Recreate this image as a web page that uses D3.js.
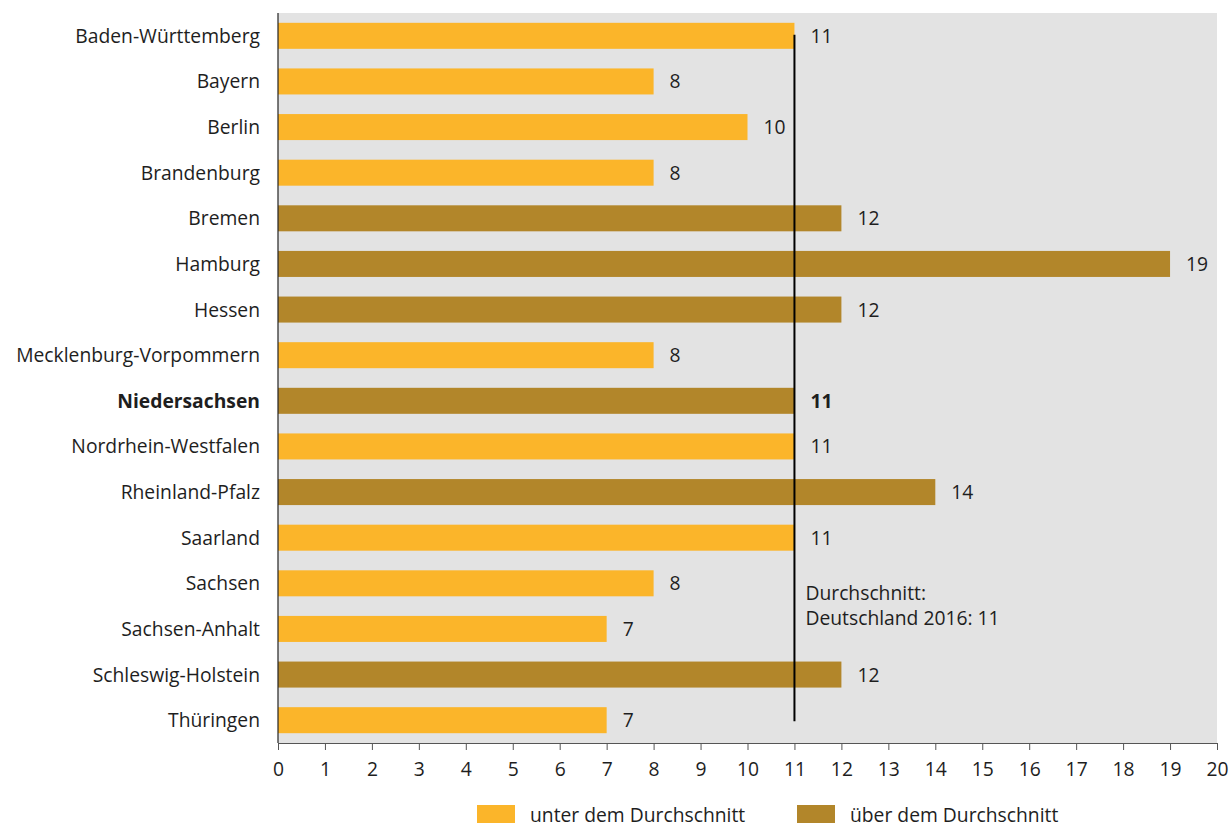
<!DOCTYPE html>
<html lang="de">
<head>
<meta charset="utf-8">
<script src="https://cdn.jsdelivr.net/npm/d3@7"></script>
<style>
  html, body { margin: 0; padding: 0; background: #fff; }
  svg { display: block; font-family: "Open Sans", "Noto Sans", sans-serif; }
</style>
</head>
<body>
<svg id="chart" width="1231" height="827"></svg>
<script>
// Bundesländer and their values
const states = [
  "Baden-Württemberg", "Bayern", "Berlin", "Brandenburg", "Bremen", "Hamburg",
  "Hessen", "Mecklenburg-Vorpommern", "Niedersachsen", "Nordrhein-Westfalen",
  "Rheinland-Pfalz", "Saarland", "Sachsen", "Sachsen-Anhalt",
  "Schleswig-Holstein", "Thüringen"
];
const values = [11, 8, 10, 8, 12, 19, 12, 8, 11, 11, 14, 11, 8, 7, 12, 7];
// "above" = über dem Durchschnitt, "below" = unter dem Durchschnitt
const groups = ["below", "below", "below", "below", "above", "above", "above", "below",
                "above", "below", "above", "below", "below", "below", "above", "below"];
const highlighted = "Niedersachsen";
const average = 11;
const averageLabel = ["Durchschnitt:", "Deutschland 2016: 11"];
const xTicks = d3.range(0, 21);
const legendItems = [
  { key: "below", label: "unter dem Durchschnitt" },
  { key: "above", label: "über dem Durchschnitt" }
];

const colors = { below: "#FBB52A", above: "#B2862A" };
const textColor = "#1e1e1e";
const fontSize = 19.3;

const svg = d3.select("#chart");
const margin = { left: 278, right: 14, top: 13, bottom: 84 };
const width = 1231, height = 827;

const x = d3.scaleLinear().domain([0, 20]).range([margin.left, width - margin.right]);
const y = d3.scaleBand().domain(states).range([margin.top, height - margin.bottom])
  .paddingInner(0.43).paddingOuter(0.215);

// plot background
svg.append("rect")
  .attr("x", x(0)).attr("y", margin.top)
  .attr("width", x(20) - x(0)).attr("height", (height - margin.bottom) - margin.top)
  .attr("fill", "#E3E3E3");

const data = states.map((s, i) => ({ state: s, value: values[i], group: groups[i] }));

// bars
svg.append("g").selectAll("rect").data(data).join("rect")
  .attr("x", x(0))
  .attr("y", d => y(d.state))
  .attr("width", d => x(d.value) - x(0))
  .attr("height", y.bandwidth())
  .attr("fill", d => colors[d.group]);

// value labels
svg.append("g").selectAll("text").data(data).join("text")
  .attr("x", d => x(d.value) + 16)
  .attr("y", d => y(d.state) + y.bandwidth() / 2)
  .attr("dy", "0.36em")
  .style("font-size", fontSize + "px")
  .attr("font-weight", d => d.state === highlighted ? 700 : 400)
  .attr("fill", textColor)
  .text(d => d.value);

// category labels
svg.append("g").selectAll("text").data(states).join("text")
  .attr("x", 260)
  .attr("y", d => y(d) + y.bandwidth() / 2)
  .attr("dy", "0.36em")
  .attr("text-anchor", "end")
  .style("font-size", fontSize + "px")
  .attr("font-weight", d => d === highlighted ? 700 : 400)
  .attr("fill", textColor)
  .text(d => d);

// average reference line
svg.append("line")
  .attr("x1", x(average)).attr("x2", x(average))
  .attr("y1", y(states[0]) + y.bandwidth() / 2 - 1)
  .attr("y2", y(states[states.length - 1]) + y.bandwidth() / 2 + 1)
  .attr("stroke", "#000").attr("stroke-width", 2);

const ann = svg.append("text")
  .attr("x", x(average) + 11)
  .style("font-size", fontSize + "px")
  .attr("fill", textColor);
averageLabel.forEach((t, i) => {
  ann.append("tspan").attr("x", x(average) + 11).attr("y", 600 + i * 25).text(t);
});

// x axis
const xAxis = svg.append("g")
  .attr("transform", `translate(0,${height - margin.bottom})`)
  .call(d3.axisBottom(x).tickValues(xTicks).tickSize(7).tickPadding(12).tickSizeOuter(0));
xAxis.attr("font-size", null).attr("font-family", null);
xAxis.select(".domain").attr("stroke", "#555");
xAxis.selectAll(".tick line").attr("stroke", "#555");
xAxis.selectAll(".tick text")
  .style("font-size", fontSize + "px")
  .style("font-family", "'Open Sans', 'Noto Sans', sans-serif")
  .attr("fill", textColor);

// y axis line
svg.append("line")
  .attr("x1", x(0)).attr("x2", x(0))
  .attr("y1", margin.top).attr("y2", height - margin.bottom)
  .attr("stroke", "#222").attr("stroke-width", 1.2);

// legend
const legendX = [477, 797];
const legend = svg.append("g").selectAll("g").data(legendItems).join("g")
  .attr("transform", (d, i) => `translate(${legendX[i]},805)`);
legend.append("rect")
  .attr("width", 38).attr("height", 18)
  .attr("fill", d => colors[d.key]);
legend.append("text")
  .attr("x", 53).attr("y", 16.5)
  .style("font-size", fontSize + "px")
  .attr("fill", textColor)
  .text(d => d.label);
</script>
</body>
</html>
